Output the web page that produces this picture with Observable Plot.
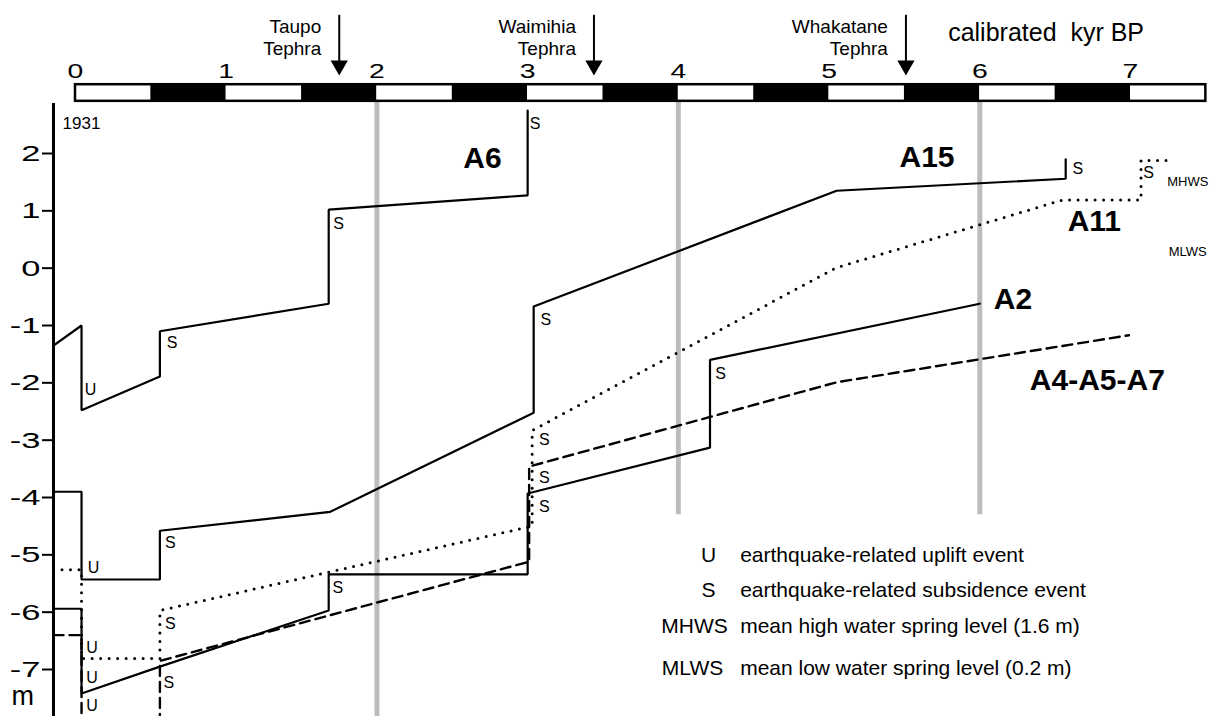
<!DOCTYPE html>
<html><head><meta charset="utf-8">
<script src="https://cdn.jsdelivr.net/npm/d3@7"></script>
<script src="https://cdn.jsdelivr.net/npm/@observablehq/plot@0.6"></script>
<style>html,body{margin:0;padding:0;background:#fff;} #chart svg{display:block;}</style>
</head><body><div id="chart"></div>
<script>
// ---- data (age in calibrated kyr BP, elevation in m) ----
const xTicks = [0, 1, 2, 3, 4, 5, 6, 7];
const yTicks = [2, 1, 0, -1, -2, -3, -4, -5, -6, -7];
const timeBarStarts = [0, 0.5, 1, 1.5, 2, 2.5, 3, 3.5, 4, 4.5, 5, 5.5, 6, 6.5, 7];
const guideAges = [2, 4, 6];
const guideBottoms = [-7.9, -4.3, -4.3];

const tephraNames = ["Taupo\nTephra", "Waimihia\nTephra", "Whakatane\nTephra"];
const tephraAges = [1.75, 3.44, 5.51];

const axisAge = -0.146;

const a6Age  = [-0.146, 0.04, 0.04, 0.56, 0.56, 1.68, 1.68, 3.0, 3.0];
const a6Elev = [-1.35, -1.00, -2.48, -1.89, -1.10, -0.62, 1.02, 1.27, 2.75];

const a15Age  = [-0.146, 0.04, 0.04, 0.56, 0.56, 1.69, 3.04, 3.04, 5.05, 6.57, 6.57];
const a15Elev = [-3.90, -3.90, -5.43, -5.43, -4.58, -4.25, -2.52, -0.67, 1.35, 1.56, 1.90];

const a11Age  = [-0.146, 0.04, 0.04, 0.56, 0.56, 3.03, 3.03, 5.05, 6.55, 7.07, 7.07, 7.25];
const a11Elev = [-5.26, -5.26, -6.81, -6.81, -5.97, -4.50, -2.83, 0.01, 1.19, 1.19, 1.88, 1.88];

const a2Age  = [-0.146, 0.04, 0.04, 0.56, 1.68, 1.68, 3.0, 3.0, 4.21, 4.21, 6.0];
const a2Elev = [-5.94, -5.94, -7.42, -6.95, -5.97, -5.34, -5.34, -3.93, -3.13, -1.60, -0.62];

const a457Age  = [-0.146, 0.04, 0.04, 0.56, 0.56, 3.01, 3.01, 5.05, 6.99];
const a457Elev = [-6.40, -6.40, -8.2, -8.2, -6.85, -5.12, -3.46, -1.99, -1.17];

const seriesNames = ["A6", "A15", "A11", "A2", "A4-A5-A7"];
const seriesLabelAge  = [2.70, 5.65, 6.76, 6.22, 6.78];
const seriesLabelElev = [1.91, 1.93, 0.81, -0.55, -1.96];

const eventLetter = ["U","S","S","S", "U","S","S","S", "U","S","S","S", "U","S","S","S", "U","S","S"];
const eventAge  = [0.10, 0.64, 1.745, 3.05, 0.12, 0.63, 3.12, 6.65, 0.11, 0.63, 3.11, 7.12, 0.11, 1.74, 3.11, 4.28, 0.11, 0.62, 3.11];
const eventElev = [-2.13, -1.31, 0.78, 2.52, -5.22, -4.80, -0.90, 1.74, -6.62, -6.20, -3.00, 1.67, -7.14, -5.57, -4.16, -1.84, -7.63, -7.23, -3.65];

const tideNames = ["MHWS", "MLWS"];
const tideLabelAge = [7.38, 7.38];
const tideLabelElev = [1.51, 0.29];

const legendKeys = ["U", "S", "MHWS", "MLWS"];
const legendTexts = ["earthquake-related uplift event", "earthquake-related subsidence event",
  "mean high water spring level (1.6 m)", "mean low water spring level (0.2 m)"];
const legendKeyAge = [4.20, 4.20, 4.107, 4.094];
const legendTextAge = 4.41;
const legendElev = [-5.00, -5.61, -6.25, -6.97];

// ---- tables ----
const rows = (ages, elevs) => ages.map((a, i) => ({age: a, elev: elevs[i]}));
const events = eventLetter.map((l, i) => ({letter: l, age: eventAge[i], elev: eventElev[i]}));
const seriesLabels = seriesNames.map((n, i) => ({name: n, age: seriesLabelAge[i], elev: seriesLabelElev[i]}));
const tephra = tephraNames.map((n, i) => ({name: n, age: tephraAges[i]}));
const tides = tideNames.map((n, i) => ({name: n, age: tideLabelAge[i], elev: tideLabelElev[i]}));
const legend = legendKeys.map((k, i) => ({key: k, text: legendTexts[i], keyAge: legendKeyAge[i], elev: legendElev[i]}));
const guides = guideAges.map((a, i) => ({age: a, bottom: guideBottoms[i]}));

const solid = {stroke: "#000", strokeWidth: 2.2};
const lineOpts = {x: "age", y: "elev", clip: true, strokeLinejoin: "miter"};

const svg = Plot.plot({
  width: 1209, height: 716,
  marginLeft: 53, marginTop: 103, marginRight: 0, marginBottom: 0,
  x: {domain: [0, 7], range: [75, 1130]},
  y: {domain: [2, -7], range: [153, 669]},
  color: {type: "identity"},
  style: {fontFamily: "'Liberation Sans', Arial, Helvetica, sans-serif", background: "#fff", color: "#000"},
  marks: [
    // grey reference lines
    Plot.ruleX(guides, {x: "age", y1: 2.91, y2: "bottom", stroke: "#bdbdbd", strokeWidth: 5}),
    // time bar
    Plot.rect(timeBarStarts, {x1: d => d, x2: d => d + 0.5, y1: 3.2, y2: 2.91, fill: (d, i) => i % 2 ? "#000" : "#fff"}),
    Plot.rect([timeBarStarts[0]], {x1: d => d, x2: timeBarStarts[timeBarStarts.length - 1] + 0.5, y1: 3.2, y2: 2.91, fill: "none", stroke: "#000", strokeWidth: 2.5}),
    Plot.axisX({anchor: "top", ticks: xTicks, tickSize: 0, tickPadding: 26, fontSize: 21, tickFormat: d => String(d)}),
    Plot.text(["calibrated  kyr BP"], {x: 5.79, y: 4.27, text: d => d, textAnchor: "start", lineAnchor: "top", fontSize: 25}),
    // tephra arrows
    Plot.ruleX(tephra, {x: "age", y1: 4.41, y2: 3.6, strokeWidth: 2}),
    Plot.dot(tephra, {x: "age", y: 3.535, symbol: "triangle", r: 6.4, rotate: 180, fill: "#000", stroke: "none"}),
    Plot.text(tephra, {x: "age", y: 4.39, text: "name", textAnchor: "end", lineAnchor: "top", dx: -18, fontSize: 19, lineHeight: 1.2}),
    // y axis
    Plot.ruleX([axisAge], {x: d => d, strokeWidth: 3}),
    Plot.axisY({anchor: "left", ticks: yTicks, tickSize: 11, tickPadding: 2, fontSize: 23, strokeWidth: 2, tickFormat: d => String(d)}),
    Plot.text(["m"], {x: -0.35, y: -7.47, text: d => d, fontSize: 27}),
    Plot.text(["1931"], {x: 0.04, y: 2.52, text: d => d, fontSize: 17}),
    // series
    Plot.line(rows(a6Age, a6Elev), {...lineOpts, ...solid}),
    Plot.line(rows(a15Age, a15Elev), {...lineOpts, ...solid}),
    Plot.line(rows(a2Age, a2Elev), {...lineOpts, ...solid}),
    Plot.line(rows(a11Age, a11Elev), {...lineOpts, stroke: "#000", strokeWidth: 3, strokeDasharray: "0 8.5", strokeLinecap: "round"}),
    Plot.line(rows(a457Age, a457Elev), {...lineOpts, stroke: "#000", strokeWidth: 2.4, strokeDasharray: "10 6"}),
    // event letters
    Plot.text(events, {x: "age", y: "elev", text: "letter", fontSize: 16}),
    // series labels
    Plot.text(seriesLabels, {x: "age", y: "elev", text: "name", fontSize: 30, fontWeight: "bold"}),
    // tide labels
    Plot.text(tides, {x: "age", y: "elev", text: "name", fontSize: 13}),
    // legend
    Plot.text(legend, {x: "keyAge", y: "elev", text: "key", fontSize: 21}),
    Plot.text(legend, {x: legendTextAge, y: "elev", text: "text", textAnchor: "start", fontSize: 21})
  ]
});
document.getElementById("chart").append(svg);
// widen axis numerals as in the source figure (scale about each label's anchor point)
function widen(selector, s) {
  svg.querySelectorAll(selector).forEach(t => {
    const b = t.getBBox();
    const anchor = getComputedStyle(t).textAnchor;
    const ax = anchor === "end" ? b.x + b.width : anchor === "middle" ? b.x + b.width / 2 : b.x;
    const tr = t.getAttribute("transform") || "";
    t.setAttribute("transform", `${tr} translate(${ax},0) scale(${s},1) translate(${-ax},0)`);
  });
}
widen('g[aria-label="y-axis tick label"] text', 1.5);
widen('g[aria-label="x-axis tick label"] text', 1.35);
</script>
</body></html>
